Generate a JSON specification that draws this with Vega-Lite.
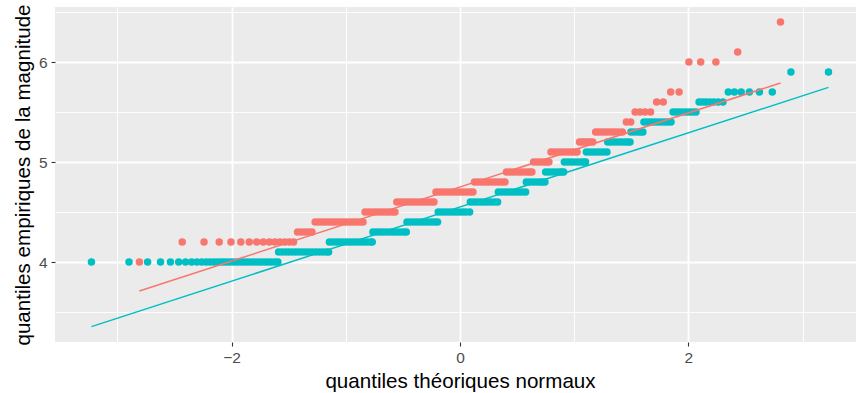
{
"$schema": "https://vega.github.io/schema/vega-lite/v6.json",
"autosize": "none",
"width": 801,
"height": 335,
"padding": {"left": 55, "top": 7, "right": 0, "bottom": 51},
"background": "white",
"view": {"fill": "#EBEBEB", "stroke": null},
"datasets": {
"pts": [
{"grp":"A","theo":-2.807,"mag":4.0},
{"grp":"A","theo":-2.432,"mag":4.2},{"grp":"A","theo":-2.241,"mag":4.2},{"grp":"A","theo":-2.108,"mag":4.2},{"grp":"A","theo":-2.005,"mag":4.2},{"grp":"A","theo":-1.919,"mag":4.2},{"grp":"A","theo":-1.845,"mag":4.2},{"grp":"A","theo":-1.78,"mag":4.2},{"grp":"A","theo":-1.722,"mag":4.2},{"grp":"A","theo":-1.669,"mag":4.2},{"grp":"A","theo":-1.621,"mag":4.2},{"grp":"A","theo":-1.576,"mag":4.2},{"grp":"A","theo":-1.534,"mag":4.2},{"grp":"A","theo":-1.495,"mag":4.2},{"grp":"A","theo":-1.457,"mag":4.2},
{"grp":"A","theo":-1.422,"mag":4.3},{"grp":"A","theo":-1.388,"mag":4.3},{"grp":"A","theo":-1.356,"mag":4.3},{"grp":"A","theo":-1.326,"mag":4.3},{"grp":"A","theo":-1.296,"mag":4.3},
{"grp":"A","theo":-1.268,"mag":4.4},{"grp":"A","theo":-1.238,"mag":4.4},{"grp":"A","theo":-1.208,"mag":4.4},{"grp":"A","theo":-1.178,"mag":4.4},{"grp":"A","theo":-1.148,"mag":4.4},{"grp":"A","theo":-1.118,"mag":4.4},{"grp":"A","theo":-1.088,"mag":4.4},{"grp":"A","theo":-1.058,"mag":4.4},{"grp":"A","theo":-1.028,"mag":4.4},{"grp":"A","theo":-0.998,"mag":4.4},{"grp":"A","theo":-0.968,"mag":4.4},{"grp":"A","theo":-0.938,"mag":4.4},{"grp":"A","theo":-0.908,"mag":4.4},{"grp":"A","theo":-0.878,"mag":4.4},{"grp":"A","theo":-0.849,"mag":4.4},
{"grp":"A","theo":-0.831,"mag":4.5},{"grp":"A","theo":-0.801,"mag":4.5},{"grp":"A","theo":-0.771,"mag":4.5},{"grp":"A","theo":-0.741,"mag":4.5},{"grp":"A","theo":-0.711,"mag":4.5},{"grp":"A","theo":-0.681,"mag":4.5},{"grp":"A","theo":-0.651,"mag":4.5},{"grp":"A","theo":-0.621,"mag":4.5},{"grp":"A","theo":-0.591,"mag":4.5},{"grp":"A","theo":-0.569,"mag":4.5},
{"grp":"A","theo":-0.553,"mag":4.6},{"grp":"A","theo":-0.523,"mag":4.6},{"grp":"A","theo":-0.493,"mag":4.6},{"grp":"A","theo":-0.463,"mag":4.6},{"grp":"A","theo":-0.433,"mag":4.6},{"grp":"A","theo":-0.403,"mag":4.6},{"grp":"A","theo":-0.373,"mag":4.6},{"grp":"A","theo":-0.343,"mag":4.6},{"grp":"A","theo":-0.313,"mag":4.6},{"grp":"A","theo":-0.283,"mag":4.6},{"grp":"A","theo":-0.253,"mag":4.6},{"grp":"A","theo":-0.228,"mag":4.6},
{"grp":"A","theo":-0.21,"mag":4.7},{"grp":"A","theo":-0.18,"mag":4.7},{"grp":"A","theo":-0.15,"mag":4.7},{"grp":"A","theo":-0.12,"mag":4.7},{"grp":"A","theo":-0.09,"mag":4.7},{"grp":"A","theo":-0.06,"mag":4.7},{"grp":"A","theo":-0.03,"mag":4.7},{"grp":"A","theo":0.0,"mag":4.7},{"grp":"A","theo":0.03,"mag":4.7},{"grp":"A","theo":0.06,"mag":4.7},{"grp":"A","theo":0.09,"mag":4.7},{"grp":"A","theo":0.114,"mag":4.7},
{"grp":"A","theo":0.127,"mag":4.8},{"grp":"A","theo":0.157,"mag":4.8},{"grp":"A","theo":0.187,"mag":4.8},{"grp":"A","theo":0.217,"mag":4.8},{"grp":"A","theo":0.247,"mag":4.8},{"grp":"A","theo":0.277,"mag":4.8},{"grp":"A","theo":0.307,"mag":4.8},{"grp":"A","theo":0.337,"mag":4.8},{"grp":"A","theo":0.367,"mag":4.8},{"grp":"A","theo":0.394,"mag":4.8},
{"grp":"A","theo":0.407,"mag":4.9},{"grp":"A","theo":0.437,"mag":4.9},{"grp":"A","theo":0.467,"mag":4.9},{"grp":"A","theo":0.497,"mag":4.9},{"grp":"A","theo":0.527,"mag":4.9},{"grp":"A","theo":0.557,"mag":4.9},{"grp":"A","theo":0.587,"mag":4.9},{"grp":"A","theo":0.61,"mag":4.9},{"grp":"A","theo":0.63,"mag":4.9},
{"grp":"A","theo":0.645,"mag":5.0},{"grp":"A","theo":0.675,"mag":5.0},{"grp":"A","theo":0.705,"mag":5.0},{"grp":"A","theo":0.735,"mag":5.0},{"grp":"A","theo":0.757,"mag":5.0},{"grp":"A","theo":0.779,"mag":5.0},
{"grp":"A","theo":0.797,"mag":5.1},{"grp":"A","theo":0.827,"mag":5.1},{"grp":"A","theo":0.857,"mag":5.1},{"grp":"A","theo":0.887,"mag":5.1},{"grp":"A","theo":0.917,"mag":5.1},{"grp":"A","theo":0.947,"mag":5.1},{"grp":"A","theo":0.977,"mag":5.1},{"grp":"A","theo":1.0,"mag":5.1},{"grp":"A","theo":1.025,"mag":5.1},
{"grp":"A","theo":1.047,"mag":5.2},{"grp":"A","theo":1.07,"mag":5.2},{"grp":"A","theo":1.092,"mag":5.2},{"grp":"A","theo":1.115,"mag":5.2},{"grp":"A","theo":1.139,"mag":5.2},{"grp":"A","theo":1.163,"mag":5.2},
{"grp":"A","theo":1.188,"mag":5.3},{"grp":"A","theo":1.213,"mag":5.3},{"grp":"A","theo":1.24,"mag":5.3},{"grp":"A","theo":1.267,"mag":5.3},{"grp":"A","theo":1.296,"mag":5.3},{"grp":"A","theo":1.326,"mag":5.3},{"grp":"A","theo":1.356,"mag":5.3},{"grp":"A","theo":1.388,"mag":5.3},{"grp":"A","theo":1.422,"mag":5.3},
{"grp":"A","theo":1.457,"mag":5.4},{"grp":"A","theo":1.495,"mag":5.4},
{"grp":"A","theo":1.534,"mag":5.5},{"grp":"A","theo":1.576,"mag":5.5},{"grp":"A","theo":1.621,"mag":5.5},{"grp":"A","theo":1.669,"mag":5.5},
{"grp":"A","theo":1.722,"mag":5.6},{"grp":"A","theo":1.78,"mag":5.6},
{"grp":"A","theo":1.845,"mag":5.7},{"grp":"A","theo":1.919,"mag":5.7},
{"grp":"A","theo":2.005,"mag":6.0},{"grp":"A","theo":2.108,"mag":6.0},{"grp":"A","theo":2.241,"mag":6.0},
{"grp":"A","theo":2.432,"mag":6.1},
{"grp":"A","theo":2.807,"mag":6.4},
{"grp":"B","theo":-3.227,"mag":4.0},{"grp":"B","theo":-2.898,"mag":4.0},{"grp":"B","theo":-2.735,"mag":4.0},{"grp":"B","theo":-2.622,"mag":4.0},{"grp":"B","theo":-2.535,"mag":4.0},{"grp":"B","theo":-2.463,"mag":4.0},{"grp":"B","theo":-2.403,"mag":4.0},{"grp":"B","theo":-2.35,"mag":4.0},{"grp":"B","theo":-2.303,"mag":4.0},{"grp":"B","theo":-2.261,"mag":4.0},{"grp":"B","theo":-2.222,"mag":4.0},{"grp":"B","theo":-2.187,"mag":4.0},{"grp":"B","theo":-2.154,"mag":4.0},{"grp":"B","theo":-2.124,"mag":4.0},{"grp":"B","theo":-2.094,"mag":4.0},{"grp":"B","theo":-2.067,"mag":4.0},{"grp":"B","theo":-2.04,"mag":4.0},{"grp":"B","theo":-2.01,"mag":4.0},{"grp":"B","theo":-1.98,"mag":4.0},{"grp":"B","theo":-1.95,"mag":4.0},{"grp":"B","theo":-1.92,"mag":4.0},{"grp":"B","theo":-1.89,"mag":4.0},{"grp":"B","theo":-1.86,"mag":4.0},{"grp":"B","theo":-1.83,"mag":4.0},{"grp":"B","theo":-1.8,"mag":4.0},{"grp":"B","theo":-1.77,"mag":4.0},{"grp":"B","theo":-1.74,"mag":4.0},{"grp":"B","theo":-1.71,"mag":4.0},{"grp":"B","theo":-1.68,"mag":4.0},{"grp":"B","theo":-1.65,"mag":4.0},{"grp":"B","theo":-1.62,"mag":4.0},{"grp":"B","theo":-1.594,"mag":4.0},
{"grp":"B","theo":-1.588,"mag":4.1},{"grp":"B","theo":-1.558,"mag":4.1},{"grp":"B","theo":-1.528,"mag":4.1},{"grp":"B","theo":-1.498,"mag":4.1},{"grp":"B","theo":-1.468,"mag":4.1},{"grp":"B","theo":-1.438,"mag":4.1},{"grp":"B","theo":-1.408,"mag":4.1},{"grp":"B","theo":-1.378,"mag":4.1},{"grp":"B","theo":-1.348,"mag":4.1},{"grp":"B","theo":-1.318,"mag":4.1},{"grp":"B","theo":-1.288,"mag":4.1},{"grp":"B","theo":-1.258,"mag":4.1},{"grp":"B","theo":-1.228,"mag":4.1},{"grp":"B","theo":-1.198,"mag":4.1},{"grp":"B","theo":-1.168,"mag":4.1},{"grp":"B","theo":-1.15,"mag":4.1},
{"grp":"B","theo":-1.143,"mag":4.2},{"grp":"B","theo":-1.113,"mag":4.2},{"grp":"B","theo":-1.083,"mag":4.2},{"grp":"B","theo":-1.053,"mag":4.2},{"grp":"B","theo":-1.023,"mag":4.2},{"grp":"B","theo":-0.993,"mag":4.2},{"grp":"B","theo":-0.963,"mag":4.2},{"grp":"B","theo":-0.933,"mag":4.2},{"grp":"B","theo":-0.903,"mag":4.2},{"grp":"B","theo":-0.873,"mag":4.2},{"grp":"B","theo":-0.843,"mag":4.2},{"grp":"B","theo":-0.813,"mag":4.2},{"grp":"B","theo":-0.783,"mag":4.2},{"grp":"B","theo":-0.768,"mag":4.2},
{"grp":"B","theo":-0.762,"mag":4.3},{"grp":"B","theo":-0.732,"mag":4.3},{"grp":"B","theo":-0.702,"mag":4.3},{"grp":"B","theo":-0.672,"mag":4.3},{"grp":"B","theo":-0.642,"mag":4.3},{"grp":"B","theo":-0.612,"mag":4.3},{"grp":"B","theo":-0.582,"mag":4.3},{"grp":"B","theo":-0.552,"mag":4.3},{"grp":"B","theo":-0.522,"mag":4.3},{"grp":"B","theo":-0.492,"mag":4.3},{"grp":"B","theo":-0.47,"mag":4.3},
{"grp":"B","theo":-0.464,"mag":4.4},{"grp":"B","theo":-0.434,"mag":4.4},{"grp":"B","theo":-0.404,"mag":4.4},{"grp":"B","theo":-0.374,"mag":4.4},{"grp":"B","theo":-0.344,"mag":4.4},{"grp":"B","theo":-0.314,"mag":4.4},{"grp":"B","theo":-0.284,"mag":4.4},{"grp":"B","theo":-0.254,"mag":4.4},{"grp":"B","theo":-0.224,"mag":4.4},{"grp":"B","theo":-0.196,"mag":4.4},
{"grp":"B","theo":-0.19,"mag":4.5},{"grp":"B","theo":-0.16,"mag":4.5},{"grp":"B","theo":-0.13,"mag":4.5},{"grp":"B","theo":-0.1,"mag":4.5},{"grp":"B","theo":-0.07,"mag":4.5},{"grp":"B","theo":-0.04,"mag":4.5},{"grp":"B","theo":-0.01,"mag":4.5},{"grp":"B","theo":0.02,"mag":4.5},{"grp":"B","theo":0.05,"mag":4.5},{"grp":"B","theo":0.085,"mag":4.5},
{"grp":"B","theo":0.091,"mag":4.6},{"grp":"B","theo":0.121,"mag":4.6},{"grp":"B","theo":0.151,"mag":4.6},{"grp":"B","theo":0.181,"mag":4.6},{"grp":"B","theo":0.211,"mag":4.6},{"grp":"B","theo":0.241,"mag":4.6},{"grp":"B","theo":0.271,"mag":4.6},{"grp":"B","theo":0.301,"mag":4.6},{"grp":"B","theo":0.33,"mag":4.6},
{"grp":"B","theo":0.336,"mag":4.7},{"grp":"B","theo":0.366,"mag":4.7},{"grp":"B","theo":0.396,"mag":4.7},{"grp":"B","theo":0.426,"mag":4.7},{"grp":"B","theo":0.456,"mag":4.7},{"grp":"B","theo":0.486,"mag":4.7},{"grp":"B","theo":0.516,"mag":4.7},{"grp":"B","theo":0.546,"mag":4.7},{"grp":"B","theo":0.575,"mag":4.7},
{"grp":"B","theo":0.581,"mag":4.8},{"grp":"B","theo":0.611,"mag":4.8},{"grp":"B","theo":0.641,"mag":4.8},{"grp":"B","theo":0.671,"mag":4.8},{"grp":"B","theo":0.701,"mag":4.8},{"grp":"B","theo":0.723,"mag":4.8},{"grp":"B","theo":0.744,"mag":4.8},
{"grp":"B","theo":0.75,"mag":4.9},{"grp":"B","theo":0.78,"mag":4.9},{"grp":"B","theo":0.81,"mag":4.9},{"grp":"B","theo":0.84,"mag":4.9},{"grp":"B","theo":0.87,"mag":4.9},{"grp":"B","theo":0.89,"mag":4.9},{"grp":"B","theo":0.908,"mag":4.9},
{"grp":"B","theo":0.914,"mag":5.0},{"grp":"B","theo":0.944,"mag":5.0},{"grp":"B","theo":0.974,"mag":5.0},{"grp":"B","theo":1.004,"mag":5.0},{"grp":"B","theo":1.034,"mag":5.0},{"grp":"B","theo":1.064,"mag":5.0},{"grp":"B","theo":1.084,"mag":5.0},{"grp":"B","theo":1.1,"mag":5.0},
{"grp":"B","theo":1.107,"mag":5.1},{"grp":"B","theo":1.137,"mag":5.1},{"grp":"B","theo":1.167,"mag":5.1},{"grp":"B","theo":1.197,"mag":5.1},{"grp":"B","theo":1.227,"mag":5.1},{"grp":"B","theo":1.257,"mag":5.1},{"grp":"B","theo":1.287,"mag":5.1},
{"grp":"B","theo":1.294,"mag":5.2},{"grp":"B","theo":1.324,"mag":5.2},{"grp":"B","theo":1.354,"mag":5.2},{"grp":"B","theo":1.384,"mag":5.2},{"grp":"B","theo":1.414,"mag":5.2},{"grp":"B","theo":1.444,"mag":5.2},{"grp":"B","theo":1.467,"mag":5.2},{"grp":"B","theo":1.489,"mag":5.2},
{"grp":"B","theo":1.497,"mag":5.3},{"grp":"B","theo":1.527,"mag":5.3},{"grp":"B","theo":1.557,"mag":5.3},{"grp":"B","theo":1.582,"mag":5.3},{"grp":"B","theo":1.602,"mag":5.3},
{"grp":"B","theo":1.611,"mag":5.4},{"grp":"B","theo":1.641,"mag":5.4},{"grp":"B","theo":1.671,"mag":5.4},{"grp":"B","theo":1.701,"mag":5.4},{"grp":"B","theo":1.731,"mag":5.4},{"grp":"B","theo":1.761,"mag":5.4},{"grp":"B","theo":1.791,"mag":5.4},{"grp":"B","theo":1.82,"mag":5.4},{"grp":"B","theo":1.848,"mag":5.4},
{"grp":"B","theo":1.866,"mag":5.5},{"grp":"B","theo":1.893,"mag":5.5},{"grp":"B","theo":1.92,"mag":5.5},{"grp":"B","theo":1.95,"mag":5.5},{"grp":"B","theo":1.98,"mag":5.5},{"grp":"B","theo":2.01,"mag":5.5},{"grp":"B","theo":2.04,"mag":5.5},{"grp":"B","theo":2.067,"mag":5.5},
{"grp":"B","theo":2.094,"mag":5.6},{"grp":"B","theo":2.124,"mag":5.6},{"grp":"B","theo":2.154,"mag":5.6},{"grp":"B","theo":2.187,"mag":5.6},{"grp":"B","theo":2.222,"mag":5.6},{"grp":"B","theo":2.261,"mag":5.6},{"grp":"B","theo":2.303,"mag":5.6},
{"grp":"B","theo":2.35,"mag":5.7},{"grp":"B","theo":2.403,"mag":5.7},{"grp":"B","theo":2.463,"mag":5.7},{"grp":"B","theo":2.535,"mag":5.7},{"grp":"B","theo":2.622,"mag":5.7},{"grp":"B","theo":2.735,"mag":5.7},
{"grp":"B","theo":2.898,"mag":5.9},{"grp":"B","theo":3.227,"mag":5.9}
],
"lns": [
{"grp":"A","theo":-2.807,"mag":3.71},{"grp":"A","theo":2.807,"mag":5.79},
{"grp":"B","theo":-3.227,"mag":3.354},{"grp":"B","theo":3.227,"mag":5.746}
]
},
"encoding": {
"x": {"field": "theo", "type": "quantitative",
  "scale": {"domain": [-3.546, 3.468], "nice": false, "zero": false},
  "axis": {"title": "quantiles théoriques normaux", "values": [-3, -2, -1, 0, 1, 2, 3],
    "labelExpr": "datum.value % 2 !== 0 ? '' : replace(format(datum.value, 'd'), '-', '−')",
    "gridWidth": {"condition": {"test": "datum.value % 2 !== 0", "value": 0.9}, "value": 1.8},
    "tickOpacity": {"condition": {"test": "datum.value % 2 !== 0", "value": 0}, "value": 1},
    "titleX": 405}},
"y": {"field": "mag", "type": "quantitative",
  "scale": {"domain": [3.2, 6.55], "nice": false, "zero": false},
  "axis": {"title": "quantiles empiriques de la magnitude", "values": [3.5, 4, 4.5, 5, 5.5, 6, 6.5],
    "labelExpr": "datum.value % 1 !== 0 ? '' : format(datum.value, 'd')",
    "gridWidth": {"condition": {"test": "datum.value % 1 !== 0", "value": 0.9}, "value": 1.8},
    "tickOpacity": {"condition": {"test": "datum.value % 1 !== 0", "value": 0}, "value": 1}}},
"color": {"field": "grp", "type": "nominal",
  "scale": {"domain": ["A", "B"], "range": ["#F8766D", "#00BFC4"]}, "legend": null}
},
"layer": [
{"data": {"name": "pts"}, "mark": {"type": "circle", "size": 56, "opacity": 1}},
{"data": {"name": "lns"}, "mark": {"type": "line", "strokeWidth": 1.5}, "encoding": {"detail": {"field": "grp"}}}
],
"config": {
"axis": {"domain": false, "gridColor": "white", "tickColor": "#333333", "tickSize": 4, "tickWidth": 1.1,
  "labelColor": "#4D4D4D", "labelFont": "Liberation Sans", "labelFontSize": 15.5, "labelPadding": 4.5,
  "titleFont": "Liberation Sans", "titleFontSize": 20.6, "titleFontWeight": "normal", "titleColor": "black", "titlePadding": 5},
"axisY": {"labelPadding": 4}
}
}
